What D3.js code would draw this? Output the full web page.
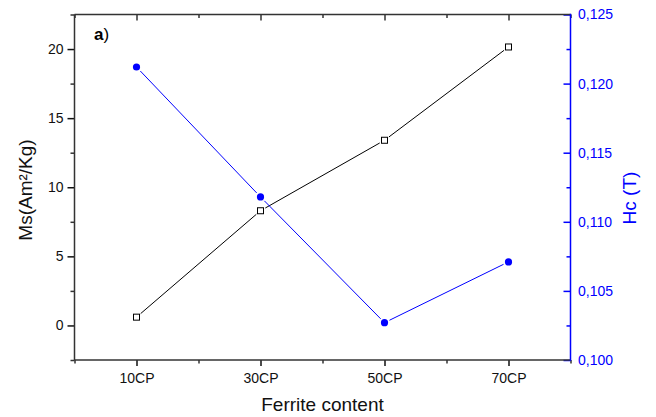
<!DOCTYPE html>
<html>
<head>
<meta charset="utf-8">
<script src="https://cdn.jsdelivr.net/npm/d3@7"></script>
<style>
  body { margin: 0; background: #fff; }
  svg { display: block; font-family: Arial, "Liberation Sans", sans-serif; }
</style>
</head>
<body>
<svg id="chart" width="656" height="417"></svg>
<script>
// data
const categories = ['10CP', '30CP', '50CP', '70CP']
const msValues = [0.6, 8.3, 13.4, 20.15]
const hcValues = [0.1212, 0.1118, 0.1027, 0.1071]
const msTicks = [0, 5, 10, 15, 20]
const msMinor = [-2.5, 2.5, 7.5, 12.5, 17.5, 22.5]
const hcTicks = [0.100, 0.105, 0.110, 0.115, 0.120, 0.125]
const hcMinor = [0.1025, 0.1075, 0.1125, 0.1175, 0.1225]

const blue = '#0000ff'
const axisColor = '#333'
const font = 'Arial, "Liberation Sans", sans-serif'

// plot frame
const pLeft = 74.5, pRight = 570.5, pTop = 14.5, pBottom = 360

let svg = d3.select('#chart')

let x = d3.scaleLinear().domain([-0.5, categories.length - 0.5]).range([pLeft, pRight])
let yMs = d3.scaleLinear().domain([-2.5, 22.5]).range([pBottom, pTop])
let yHc = d3.scaleLinear().domain([0.100, 0.125]).range([pBottom, pTop])

const catIdx = categories.map((d, i) => i)
const minorX = d3.range(-0.5, categories.length, 1)

function styleAxis(g, color) {
  g.attr('font-family', font).attr('font-size', 14)
  g.select('.domain').remove()
  g.selectAll('line').attr('stroke', color).attr('stroke-width', 1.5)
  g.selectAll('text').attr('fill', color)
}

// bottom axis
svg.append('g').attr('transform', `translate(0,${pBottom})`)
  .call(d3.axisBottom(x).tickValues(minorX).tickSize(3.5).tickFormat(''))
  .call(g => styleAxis(g, axisColor))
svg.append('g').attr('transform', `translate(0,${pBottom})`)
  .call(d3.axisBottom(x).tickValues(catIdx).tickSize(6).tickPadding(7).tickFormat(i => categories[i]))
  .call(g => styleAxis(g, '#111'))

// top axis, ticks pointing in
svg.append('g').attr('transform', `translate(0,${pTop})`)
  .call(d3.axisTop(x).tickValues(minorX).tickSize(-3.5).tickFormat(''))
  .call(g => styleAxis(g, axisColor))
svg.append('g').attr('transform', `translate(0,${pTop})`)
  .call(d3.axisTop(x).tickValues(catIdx).tickSize(-6).tickFormat(''))
  .call(g => styleAxis(g, axisColor))

// left axis
svg.append('g').attr('transform', `translate(${pLeft},0)`)
  .call(d3.axisLeft(yMs).tickValues(msMinor).tickSize(4).tickFormat(''))
  .call(g => styleAxis(g, axisColor))
svg.append('g').attr('transform', `translate(${pLeft},0)`)
  .call(d3.axisLeft(yMs).tickValues(msTicks).tickSize(7).tickPadding(4).tickFormat(d3.format('d')))
  .call(g => styleAxis(g, '#111'))

// right axis (blue), ticks pointing in
svg.append('g').attr('transform', `translate(${pRight},0)`)
  .call(d3.axisRight(yHc).tickValues(hcMinor).tickSize(-4).tickFormat(''))
  .call(g => styleAxis(g, blue))
svg.append('g').attr('transform', `translate(${pRight},0)`)
  .call(d3.axisRight(yHc).tickValues(hcTicks).tickSize(-7).tickPadding(7.5)
    .tickFormat(d => d3.format('.3f')(d).replace('.', ',')))
  .call(g => styleAxis(g, blue))

// frame lines
svg.append('line').attr('x1', pLeft).attr('x2', pRight).attr('y1', pTop).attr('y2', pTop)
  .attr('stroke', axisColor).attr('stroke-width', 1.5)
svg.append('line').attr('x1', pLeft).attr('x2', pRight).attr('y1', pBottom).attr('y2', pBottom)
  .attr('stroke', axisColor).attr('stroke-width', 1.5)
svg.append('line').attr('x1', pLeft).attr('x2', pLeft).attr('y1', pTop).attr('y2', pBottom)
  .attr('stroke', axisColor).attr('stroke-width', 1.5)
svg.append('line').attr('x1', pRight).attr('x2', pRight).attr('y1', pTop - 0.75).attr('y2', pBottom + 0.75)
  .attr('stroke', blue).attr('stroke-width', 1.5)

// line segments with small gaps at the markers, like Origin draws them
function segments(values, yScale, gap) {
  let pts = values.map((v, i) => [x(i), yScale(v)])
  let segs = []
  for (let i = 0; i < pts.length - 1; i++) {
    let [x1, y1] = pts[i], [x2, y2] = pts[i + 1]
    let len = Math.hypot(x2 - x1, y2 - y1)
    let ux = (x2 - x1) / len, uy = (y2 - y1) / len
    segs.push([x1 + ux * gap, y1 + uy * gap, x2 - ux * gap, y2 - uy * gap])
  }
  return segs
}

// Ms series: black line, open squares
svg.append('g').selectAll('line').data(segments(msValues, yMs, 5.5)).enter().append('line')
  .attr('x1', d => d[0]).attr('y1', d => d[1]).attr('x2', d => d[2]).attr('y2', d => d[3])
  .attr('stroke', '#000').attr('stroke-width', 1)
svg.append('g').selectAll('rect').data(msValues).enter().append('rect')
  .attr('x', (d, i) => x(i) - 3)
  .attr('y', d => yMs(d) - 3)
  .attr('width', 6).attr('height', 6)
  .attr('fill', '#fff').attr('stroke', '#000').attr('stroke-width', 1)

// Hc series: blue line, filled circles
svg.append('g').selectAll('line').data(segments(hcValues, yHc, 5.5)).enter().append('line')
  .attr('x1', d => d[0]).attr('y1', d => d[1]).attr('x2', d => d[2]).attr('y2', d => d[3])
  .attr('stroke', blue).attr('stroke-width', 1)
svg.append('g').selectAll('circle').data(hcValues).enter().append('circle')
  .attr('cx', (d, i) => x(i))
  .attr('cy', d => yHc(d))
  .attr('r', 3.6)
  .attr('fill', blue)

// titles
svg.append('text').attr('x', (pLeft + pRight) / 2).attr('y', 411)
  .attr('text-anchor', 'middle').attr('font-size', '19px').attr('fill', '#111')
  .text('Ferrite content')
svg.append('text').attr('transform', 'translate(32,190) rotate(-90)')
  .attr('text-anchor', 'middle').attr('font-size', '19px').attr('fill', '#111')
  .text('Ms(Am²/Kg)')
svg.append('text').attr('transform', 'translate(636,198) rotate(-90)')
  .attr('text-anchor', 'middle').attr('font-size', '19px').attr('fill', blue)
  .text('Hc (T)')

// panel letter
let tag = svg.append('text').attr('x', 94).attr('y', 40).attr('font-size', '17px').attr('fill', '#000')
tag.append('tspan').attr('font-weight', 'bold').text('a')
tag.append('tspan').text(')')
</script>
</body>
</html>
